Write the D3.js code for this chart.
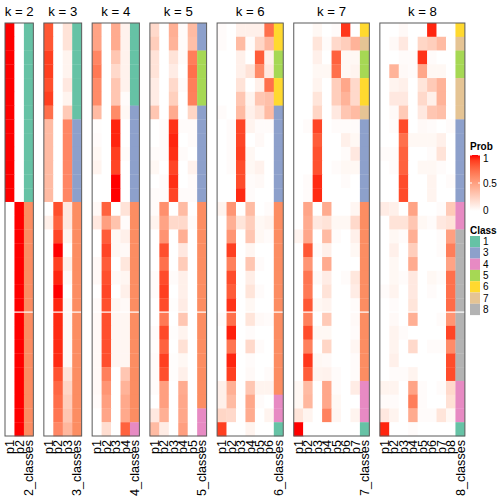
<!DOCTYPE html>
<html><head><meta charset="utf-8">
<script src="https://cdn.jsdelivr.net/npm/d3@7"></script>
<style>body{margin:0;background:#fff}svg{display:block}text{font-family:"Liberation Sans",Arial,Helvetica,sans-serif}</style>
</head><body><svg id="c" width="504" height="504"></svg>
<script>
// ---------- data ----------
const kValues = [2,3,4,5,6,7,8];
const classColors = {1:"#66C2A5",2:"#FC8D62",3:"#8DA0CB",4:"#E78AC3",5:"#A6D854",6:"#FFD92F",7:"#E5C494",8:"#B3B3B3"};
const legendClasses = [1,3,4,5,6,7,8];
const probTicks = [0,0.5,1];

const probK2 = [
[1,0],[1,0],[1,0],[1,0],[1,0],[1,0],[1,0],[1,0],[1,0],[1,0],[1,0],[1,0],[1,0],
[0,1],[0,1],[0,1],[0,1],[0,1],[0,1],[0,1],[0,1],[0,1],[0,1],[0,1],[0,1],[0,1],[0,1],[0,1],[0,1],[0,1]];
const classK2 = [1,1,1,1,1,1,1,1,1,1,1,1,1,2,2,2,2,2,2,2,2,2,2,2,2,2,2,2,2,2];

const probK3 = [
[0.82,0,0.15],[0.82,0,0.15],[0.9,0,0.06],[0.9,0,0.06],[0.85,0,0.12],[0.9,0,0.06],[0.72,0,0.28],
[0.36,0,0.62],[0.36,0,0.62],[0.36,0,0.62],[0.36,0,0.62],[0.36,0,0.62],[0.36,0,0.62],
[0,0.85,0.12],[0.08,0.78,0.12],[0,0.88,0.06],[0,1,0],[0,0.9,0.08],[0,0.96,0.03],[0,1,0],[0,0.96,0.03],
[0,0.95,0.03],[0,0.95,0.03],[0,0.95,0.03],[0,0.95,0.03],[0,0.84,0.15],[0,0.76,0.22],[0,0.73,0.26],[0,0.7,0.3],[0,0.62,0.38]];
const classK3 = [1,1,1,1,1,1,1,3,3,3,3,3,3,2,2,2,2,2,2,2,2,2,2,2,2,2,2,2,2,2];

const probK4 = [
[0.48,0,0.44,0.07],[0.48,0,0.44,0.07],[0.62,0,0.3,0.07],[0.68,0,0.2,0.07],[0.6,0,0.3,0.07],[0.6,0,0.3,0.02],
[0.36,0,0.6,0.04],[0.01,0,0.96,0],[0.02,0,0.96,0],[0.04,0,0.9,0.02],[0.06,0,0.88,0],[0,0,1,0],[0,0,1,0],
[0.03,0.78,0,0.15],[0.12,0.5,0.32,0.02],[0,0.8,0.04,0.08],[0,0.88,0.04,0.03],[0.03,0.8,0,0.13],[0.03,0.85,0.03,0.05],
[0,0.88,0,0.08],[0.02,0.85,0.05,0.03],[0.03,0.85,0.05,0.05],[0.03,0.85,0.05,0.05],[0.03,0.85,0.05,0.05],[0.03,0.85,0.05,0.05],
[0.03,0.65,0,0.3],[0.03,0.55,0,0.4],[0.02,0.5,0,0.45],[0,0.47,0,0.45],[0,0.18,0,0.78]];
const classK4 = [1,1,1,1,1,1,3,3,3,3,3,3,3,2,2,2,2,2,2,2,2,2,2,2,2,2,2,2,2,4];

const probK5 = [
[0.2,0,0.42,0.02,0.36],[0.26,0,0.4,0.02,0.34],[0.15,0,0.15,0.02,0.66],[0.15,0,0.1,0,0.72],[0.1,0,0.2,0.02,0.66],
[0.1,0,0.25,0,0.65],[0.3,0,0.44,0,0.22],[0,0.02,0.93,0.02,0.02],[0,0.02,0.96,0,0.02],[0.02,0.02,0.94,0.02,0],
[0.04,0,0.88,0,0.07],[0,0.02,0.94,0,0.02],[0.02,0.02,0.88,0.02,0.02],
[0.02,0.58,0,0.36,0],[0.06,0.48,0.2,0.2,0.02],[0,0.56,0,0.42,0],[0,0.85,0,0.12,0],[0,0.72,0,0.27,0],
[0.02,0.86,0.02,0.08,0],[0.02,0.9,0,0.08,0],[0,0.86,0.01,0.1,0],[0,0.68,0,0.3,0],[0.02,0.87,0.01,0.06,0],
[0.01,0.78,0,0.16,0],[0.02,0.9,0.01,0.04,0],[0.02,0.85,0.01,0.08,0],[0.02,0.5,0,0.44,0],[0,0.5,0,0.46,0],
[0.12,0.42,0,0.46,0],[0.36,0.1,0,0.5,0]];
const classK5 = [3,3,5,5,5,5,3,3,3,3,3,3,3,2,2,2,2,2,2,2,2,2,2,2,2,2,2,2,4,4];

const probK6 = [
[0.02,0,0.08,0.08,0.08,0.72],[0.02,0,0.36,0.02,0.22,0.38],[0,0,0.08,0,0.8,0.08],[0,0,0.08,0.15,0.6,0.12],
[0,0,0.15,0,0.08,0.72],[0,0,0.3,0.06,0.3,0.34],[0.02,0,0.36,0.08,0.15,0.36],[0,0.02,0.88,0.06,0.02,0.02],
[0,0.02,0.88,0,0.03,0],[0,0.02,0.9,0.04,0,0],[0,0.02,0.86,0.04,0.07,0],[0,0,0.86,0.02,0.03,0],[0,0,0.95,0.02,0,0],
[0.06,0.55,0,0.36,0,0.02],[0,0.42,0.14,0.26,0.04,0.06],[0,0.55,0,0.3,0.04,0.02],[0,0.9,0,0.05,0,0],
[0,0.65,0,0.3,0.02,0],[0,0.86,0,0.09,0,0],[0,0.8,0,0.14,0.02,0],[0,0.93,0,0.04,0,0],[0.02,0.72,0,0.14,0.03,0.02],
[0,0.97,0,0.02,0,0],[0,0.7,0,0.2,0.02,0],[0,0.96,0,0.02,0,0],[0,0.9,0,0.03,0,0.02],[0.08,0.42,0,0.3,0.06,0.06],
[0.08,0.36,0,0.46,0.02,0],[0.22,0.2,0,0.44,0,0.06],[0.9,0,0,0.06,0,0]];
const classK6 = [6,6,5,5,6,6,3,3,3,3,3,3,3,2,2,2,2,2,2,2,2,2,2,2,2,2,2,4,4,1];

const probK7 = [
[0,0,0.04,0,0.02,0.92,0],[0,0,0.14,0.02,0.2,0.26,0.4],[0,0,0.08,0,0.78,0.04,0.04],[0,0,0.04,0.04,0.72,0.04,0.06],
[0,0,0.06,0,0.26,0.46,0.2],[0,0,0.14,0,0.26,0.4,0.2],[0,0,0.22,0,0.12,0.3,0.36],[0,0.02,0.88,0,0.02,0.02,0.02],
[0,0,0.8,0,0,0.08,0.04],[0,0,0.84,0,0,0.02,0.12],[0,0,0.84,0,0.02,0.04,0.04],[0,0.02,0.95,0,0,0.02,0],[0,0.02,0.95,0,0,0,0],
[0,0.47,0,0.44,0,0,0.05],[0,0.44,0.12,0.15,0.04,0.04,0.2],[0.06,0.46,0,0.36,0.02,0,0.08],[0,0.82,0.02,0.08,0,0,0.04],
[0,0.55,0,0.44,0,0,0],[0,0.7,0.03,0.1,0,0.02,0.13],[0,0.68,0,0.15,0,0,0.1],[0,0.82,0.04,0.06,0,0,0.02],
[0,0.65,0,0.28,0,0,0.03],[0,0.86,0.04,0.04,0,0,0.02],[0,0.65,0,0.22,0,0,0.05],[0,0.92,0.04,0.03,0,0,0.02],
[0,0.8,0.06,0.07,0.02,0,0.02],[0.04,0.36,0,0.46,0.02,0,0.1],[0.04,0.38,0,0.46,0.04,0,0],[0.14,0.06,0,0.64,0.05,0,0.06],
[1,0,0,0,0,0,0]];
const classK7 = [6,7,5,5,6,6,7,3,3,3,3,3,3,2,2,2,2,2,2,2,2,2,2,2,2,2,4,4,4,1];

const probK8 = [
[0,0,0.03,0,0,0.96,0,0],[0,0.03,0.12,0,0.22,0.26,0.36,0],[0,0,0.02,0.02,0.93,0.02,0,0],[0,0.4,0.03,0.02,0.46,0.04,0.04,0],
[0,0.06,0.08,0,0.14,0.28,0.4,0],[0,0.12,0.12,0,0.2,0.08,0.4,0],[0,0.03,0.28,0,0.12,0.3,0.34,0],[0,0.02,0.86,0,0.03,0.02,0,0.02],
[0,0,0.72,0.04,0.04,0.04,0.08,0],[0.02,0.02,0.78,0,0,0.02,0.15,0],[0,0.02,0.78,0,0.04,0.04,0.02,0],[0,0,0.86,0,0,0.06,0,0.02],
[0,0,0.86,0,0,0.06,0,0],[0.1,0.08,0,0.48,0,0,0.02,0.28],[0,0.15,0.15,0.3,0.04,0.02,0.12,0.15],[0,0.04,0.02,0.42,0,0,0.02,0.5],
[0,0.08,0,0.26,0,0,0.02,0.66],[0,0.04,0,0.44,0,0,0,0.48],[0,0.04,0.02,0.12,0,0.04,0.02,0.72],[0.02,0.06,0,0.12,0,0.02,0,0.72],
[0,0.02,0,0.14,0,0,0,0.74],[0,0.03,0,0.42,0,0,0.02,0.55],[0,0.06,0.02,0,0,0,0,0.88],[0,0.06,0,0.2,0,0.02,0.02,0.6],
[0,0.08,0,0,0,0,0,0.86],[0,0.02,0.02,0.06,0,0,0,0.86],[0.06,0.06,0,0.48,0.02,0,0.02,0.2],[0.02,0.02,0,0.66,0.02,0,0,0.16],
[0.12,0.06,0,0.44,0.02,0.02,0.14,0.04],[0.96,0,0,0.02,0,0,0,0]];
const classK8 = [6,7,5,5,7,7,7,3,3,3,3,3,3,4,4,8,8,8,8,8,8,8,8,8,8,8,4,4,4,1];

const probs = {2:probK2,3:probK3,4:probK4,5:probK5,6:probK6,7:probK7,8:probK8};
const classes = {2:classK2,3:classK3,4:classK4,5:classK5,6:classK6,7:classK7,8:classK8};
const splitBefore = 21; // row slice gap

// ---------- layout ----------
const svg = d3.select("#c");
const hmTop = 23, hmBottom = 436, left0 = 5, colW = 9.45, gapW = 10.5;
const nRows = probK2.length;
const y = d3.scaleBand().domain(d3.range(nRows)).range([hmTop, hmBottom]).paddingInner(0);
const color = d3.scaleLinear().domain([0,1]).range(["#FFFFFF","#FF0000"]).interpolate(d3.interpolateLab);

let x0 = left0;
kValues.forEach(k => {
  const cols = d3.range(1,k+1).map(i => "p"+i).concat([k+"_classes"]);
  const width = cols.length*colW;
  const x = d3.scaleBand().domain(cols).range([x0, x0+width]);
  const g = svg.append("g");
  const mat = probs[k], cls = classes[k];
  mat.forEach((row, r) => {
    row.forEach((v, c) => {
      g.append("rect").attr("x", x(cols[c])).attr("y", y(r))
        .attr("width", x.bandwidth()+0.3).attr("height", y.bandwidth()+0.3)
        .attr("fill", color(v));
    });
    g.append("rect").attr("x", x(cols[k])).attr("y", y(r))
      .attr("width", x.bandwidth()).attr("height", y.bandwidth()+0.3)
      .attr("fill", classColors[cls[r]]);
  });
  g.append("rect").attr("x", x0).attr("y", y(splitBefore)-0.6).attr("width", width).attr("height", 1.2).attr("fill","#fff");
  g.append("rect").attr("x", x0).attr("y", hmTop).attr("width", width).attr("height", hmBottom-hmTop)
    .attr("fill","none").attr("stroke","#5a5a5a").attr("stroke-width",1);
  g.append("text").attr("x", x0+width/2).attr("y", 15.5).attr("text-anchor","middle")
    .attr("font-size", 13.2).attr("fill","#000").text("k = "+k);
  cols.forEach(cn => {
    const cx = x(cn) + x.bandwidth()/2;
    g.append("text").attr("transform", `translate(${cx},440) rotate(-90)`)
      .attr("text-anchor","end").attr("dy","0.35em").attr("font-size", 12.6).attr("fill","#000").text(cn);
  });
  x0 += width + gapW;
});

// ---------- legends ----------
const lx = 470;
svg.append("text").attr("x", lx).attr("y", 149.5).attr("font-size", 10).attr("font-weight","bold").text("Prob");
const defs = svg.append("defs");
const grad = defs.append("linearGradient").attr("id","pg").attr("x1",0).attr("y1",1).attr("x2",0).attr("y2",0);
d3.range(0,1.0001,0.1).forEach(t => grad.append("stop").attr("offset", t).attr("stop-color", color(t)));
const ly = d3.scaleLinear().domain([0,1]).range([211,155]);
svg.append("rect").attr("x", lx).attr("y", ly(1)).attr("width", 10).attr("height", ly(0)-ly(1)).attr("fill","url(#pg)");
probTicks.forEach(t => {
  svg.append("line").attr("x1", lx).attr("x2", lx+2).attr("y1", ly(t)).attr("y2", ly(t)).attr("stroke","#fff");
  svg.append("line").attr("x1", lx+8).attr("x2", lx+10).attr("y1", ly(t)).attr("y2", ly(t)).attr("stroke","#fff");
  const yy = t===1 ? ly(t)+3 : (t===0 ? ly(t)-1 : ly(t));
  svg.append("text").attr("x", lx+13).attr("y", yy).attr("dy","0.35em").attr("font-size",10).text(t===0.5?"0.5":String(t));
});
svg.append("text").attr("x", lx).attr("y", 233.5).attr("font-size", 10).attr("font-weight","bold").text("Class");
const sy = d3.scaleBand().domain(legendClasses).range([236, 236+legendClasses.length*11.3]);
legendClasses.forEach(c => {
  svg.append("rect").attr("x", lx).attr("y", sy(c)).attr("width", 10).attr("height", sy.bandwidth()).attr("fill", classColors[c]);
  svg.append("text").attr("x", lx+13).attr("y", sy(c)+sy.bandwidth()/2).attr("dy","0.35em").attr("font-size",10).text(c);
});
</script></body></html>
